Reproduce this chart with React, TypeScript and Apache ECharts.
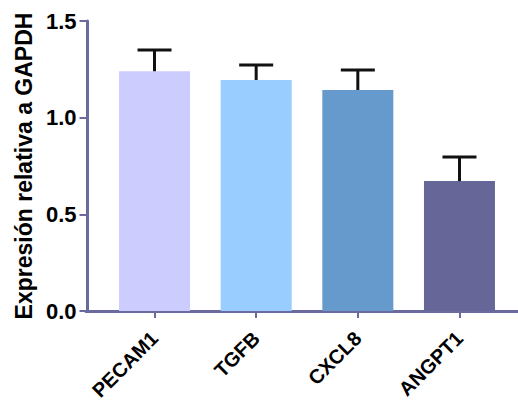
import React, { useEffect, useRef } from "react";
import * as echarts from "echarts";

const categories = ["PECAM1", "TGFB", "CXCL8", "ANGPT1"];
const means = [1.24, 1.195, 1.143, 0.672];
const errors = [0.11, 0.078, 0.104, 0.124];
const barColors = ["#ccccff", "#99ccff", "#6699cc", "#666699"];
const yTicks = [0, 0.5, 1.0, 1.5];
const yTitle = "Expresión relativa a GAPDH";

const AXIS_COLOR = "#6a6a9e";
const FONT = "'Liberation Sans', Arial, Helvetica, sans-serif";

export default function App() {
  const ref = useRef<HTMLDivElement>(null);
  useEffect(() => {
    document.body.style.margin = "0";
    if (!ref.current) return;
    const chart = echarts.init(ref.current, null, { renderer: "svg" });
    const option: any = {
      animation: false,
      backgroundColor: "#ffffff",
      grid: [
        { left: 103.7, right: 7.7, top: 21, bottom: 92, containLabel: false, outerBoundsMode: "none" },
        { left: 86, right: 0, top: 21, bottom: 92, containLabel: false, outerBoundsMode: "none" },
      ],
      xAxis: [
        {
          type: "category",
          gridIndex: 0,
          data: categories,
          axisLine: { show: false },
          axisTick: {
            show: true,
            alignWithLabel: true,
            length: 7,
            lineStyle: { color: AXIS_COLOR, width: 2 },
          },
          axisLabel: {
            rotate: 45,
            margin: 24,
            color: "#000",
            fontFamily: FONT,
            fontWeight: "bold",
            fontSize: 20,
            lineHeight: 20,
            interval: 0,
          },
        },
        {
          type: "value",
          gridIndex: 1,
          min: 0,
          max: 1,
          axisLine: { show: true, onZero: false, lineStyle: { color: AXIS_COLOR, width: 3 } },
          axisTick: { show: false },
          axisLabel: { show: false },
          splitLine: { show: false },
        },
      ],
      yAxis: [
        {
          type: "value",
          gridIndex: 0,
          min: yTicks[0],
          max: yTicks[yTicks.length - 1],
          interval: 0.5,
          offset: 16.2,
          name: yTitle,
          nameLocation: "middle",
          nameGap: 46,
          nameTextStyle: {
            color: "#000",
            fontFamily: FONT,
            fontWeight: "bold",
            fontSize: 23,
          },
          axisLine: { show: true, lineStyle: { color: AXIS_COLOR, width: 3 } },
          axisTick: { show: true, length: 8, lineStyle: { color: AXIS_COLOR, width: 2 } },
          axisLabel: {
            margin: 11,
            color: "#000",
            fontFamily: FONT,
            fontWeight: "bold",
            fontSize: 22,
            formatter: (v: number) => v.toFixed(1),
          },
          splitLine: { show: false },
        },
        {
          type: "value",
          gridIndex: 1,
          show: false,
          min: 0,
          max: 1,
        },
      ],
      series: [
        {
          type: "bar",
          xAxisIndex: 0,
          yAxisIndex: 0,
          barWidth: 71,
          data: means.map((v, i) => ({ value: v, itemStyle: { color: barColors[i] } })),
          z: 2,
        },
        {
          type: "custom",
          xAxisIndex: 0,
          yAxisIndex: 0,
          z: 3,
          data: means.map((v, i) => [i, v, v + errors[i]]),
          encode: { x: 0, y: [1, 2] },
          renderItem: (params: any, api: any) => {
            const i = api.value(0);
            const base = api.coord([i, api.value(1)]);
            const top = api.coord([i, api.value(2)]);
            const half = 17;
            const style = { stroke: "#111", lineWidth: 3, fill: "none" };
            return {
              type: "group",
              children: [
                { type: "line", shape: { x1: base[0], y1: base[1], x2: top[0], y2: top[1] }, style },
                { type: "line", shape: { x1: top[0] - half, y1: top[1], x2: top[0] + half, y2: top[1] }, style },
              ],
            };
          },
        },
      ],
    };
    chart.setOption(option);
    return () => chart.dispose();
  }, []);
  return <div ref={ref} style={{ width: 518, height: 403 }} />;
}
